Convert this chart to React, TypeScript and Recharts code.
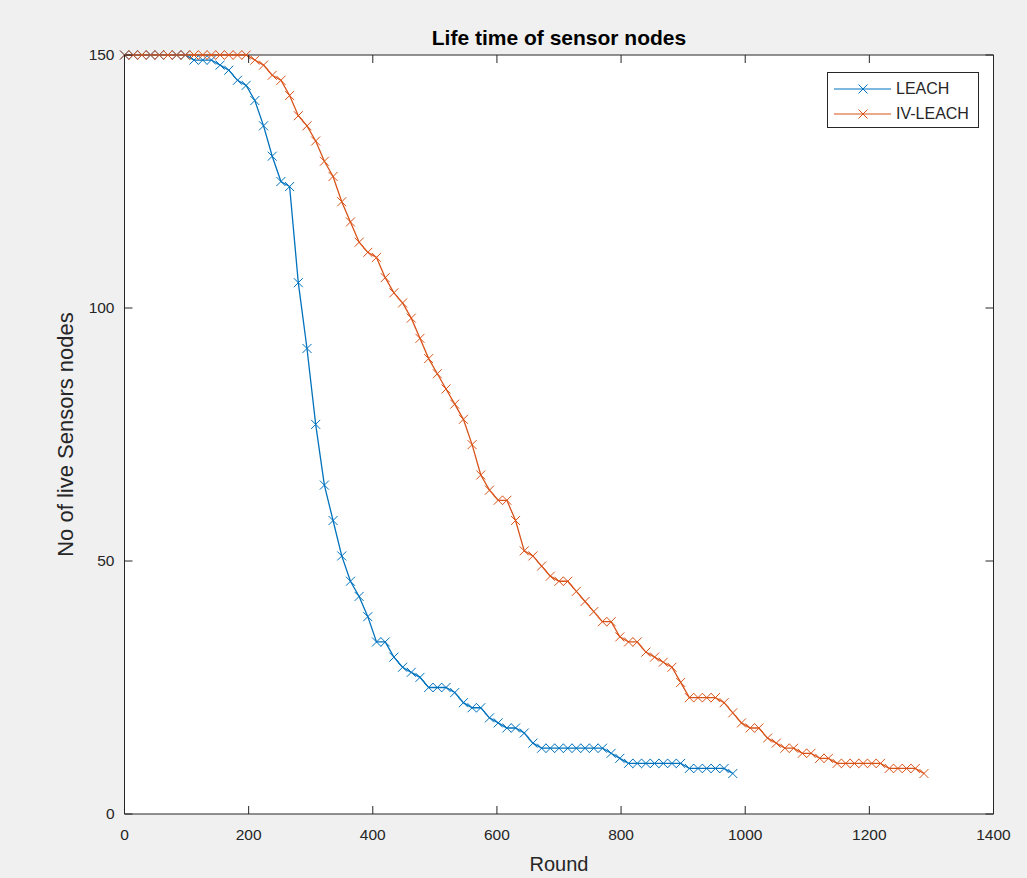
import React from "react";
import { LineChart, Line, XAxis, YAxis, CartesianGrid, ReferenceLine } from "recharts";

// rounds at which the node count was sampled
const rounds = [
  0, 14, 28, 42, 56, 70, 84, 98, 112, 126, 140, 154, 168, 182, 196, 210, 224, 238, 252, 266,
  280, 294, 308, 322, 336, 350, 364, 378, 392, 406, 420, 434, 448, 462, 476, 490, 504, 518, 532, 546,
  560, 574, 588, 602, 616, 630, 644, 658, 672, 686, 700, 714, 728, 742, 756, 770, 784, 798, 812, 826,
  840, 854, 868, 882, 896, 910, 924, 938, 952, 966, 980, 994, 1008, 1022, 1036, 1050, 1064, 1078, 1092, 1106,
  1120, 1134, 1148, 1162, 1176, 1190, 1204, 1218, 1232, 1246, 1260, 1274, 1288,
];

const leach = [
  150, 150, 150, 150, 150, 150, 150, 150, 149, 149, 149, 148, 147, 145, 144, 141, 136, 130, 125, 124,
  105, 92, 77, 65, 58, 51, 46, 43, 39, 34, 34, 31, 29, 28, 27, 25, 25, 25, 24, 22,
  21, 21, 19, 18, 17, 17, 16, 14, 13, 13, 13, 13, 13, 13, 13, 13, 12, 11, 10, 10,
  10, 10, 10, 10, 10, 9, 9, 9, 9, 9, 8,
];

const ivLeach = [
  150, 150, 150, 150, 150, 150, 150, 150, 150, 150, 150, 150, 150, 150, 150, 149, 148, 146, 145, 142,
  138, 136, 133, 129, 126, 121, 117, 113, 111, 110, 106, 103, 101, 98, 94, 90, 87, 84, 81, 78,
  73, 67, 64, 62, 62, 58, 52, 51, 49, 47, 46, 46, 44, 42, 40, 38, 38, 35, 34, 34,
  32, 31, 30, 29, 26, 23, 23, 23, 23, 22, 20, 18, 17, 17, 15, 14, 13, 13, 12, 12,
  11, 11, 10, 10, 10, 10, 10, 10, 9, 9, 9, 9, 8,
];

const xTicks = [0, 200, 400, 600, 800, 1000, 1200, 1400];
const yTicks = [0, 50, 100, 150];

const BLUE = "#0072BD";
const ORANGE = "#D95319";
const AXIS = "#262626";
const FONT = "'Liberation Sans', Arial, Helvetica, sans-serif";

const W = 1027;
const H = 878;
const MARGIN = { top: 55, right: 33.5, bottom: 24, left: 64.5 };
const Y_AXIS_W = 60;
const X_AXIS_H = 40;
const PLOT_W = W - MARGIN.left - MARGIN.right - Y_AXIS_W;
const PLOT_H = H - MARGIN.top - MARGIN.bottom - X_AXIS_H;

const data = rounds.map((r, i) => ({
  round: r,
  leach: i < leach.length ? leach[i] : null,
  iv: ivLeach[i],
}));

const XMark = (props: any) => {
  const { cx, cy, stroke } = props;
  if (cx == null || cy == null) return <g />;
  const s = 4.5;
  return (
    <path
      d={`M${cx - s},${cy - s}L${cx + s},${cy + s}M${cx - s},${cy + s}L${cx + s},${cy - s}`}
      stroke={stroke}
      strokeWidth={1}
      fill="none"
    />
  );
};

// inward ticks on both the left and right side of the box
const LeftTick = ({ x, y, payload }: any) => (
  <g>
    <line x1={x + 10} x2={x + 18} y1={y} y2={y} stroke={AXIS} />
    <line x1={x + 10 + PLOT_W} x2={x + 2 + PLOT_W} y1={y} y2={y} stroke={AXIS} />
    <text x={x} y={y + 5} textAnchor="end" fontSize={15.5} fill={AXIS} fontFamily={FONT}>
      {payload.value}
    </text>
  </g>
);

// inward ticks on both the bottom and top of the box
const BottomTick = ({ x, y, payload }: any) => (
  <g>
    <line x1={x} x2={x} y1={y - 10} y2={y - 18} stroke={AXIS} />
    <line x1={x} x2={x} y1={y - 10 - PLOT_H} y2={y - 2 - PLOT_H} stroke={AXIS} />
    <text x={x} y={y + 16} textAnchor="middle" fontSize={15.5} fill={AXIS} fontFamily={FONT}>
      {payload.value}
    </text>
  </g>
);

const YLabel = ({ viewBox }: any) => {
  const cx = viewBox.x + viewBox.width - 52;
  const cy = viewBox.y + viewBox.height / 2;
  return (
    <text
      x={cx}
      y={cy}
      transform={`rotate(-90 ${cx} ${cy})`}
      textAnchor="middle"
      fontSize={22}
      fill={AXIS}
      fontFamily={FONT}
    >
      No of live Sensors nodes
    </text>
  );
};

const XLabel = ({ viewBox }: any) => (
  <text
    x={viewBox.x + viewBox.width / 2}
    y={viewBox.y + 57}
    textAnchor="middle"
    fontSize={20}
    fill={AXIS}
    fontFamily={FONT}
  >
    Round
  </text>
);

const legendItems = [
  { name: "LEACH", color: BLUE },
  { name: "IV-LEACH", color: ORANGE },
];

const ChartLegend = () => (
  <div
    style={{
      position: "absolute",
      left: 827,
      top: 72,
      background: "#fff",
      border: `1px solid ${AXIS}`,
      width: 152,
      height: 56,
      paddingTop: 3,
      boxSizing: "border-box",
      fontSize: 16,
      color: AXIS,
    }}
  >
    {legendItems.map((it) => (
      <div key={it.name} style={{ display: "flex", alignItems: "center", height: 25 }}>
        <svg width={63} height={16} style={{ marginLeft: 5 }}>
          <line x1={1} x2={58} y1={8} y2={8} stroke={it.color} strokeWidth={1.2} />
          <path d="M25.5,3.5L34.5,12.5M25.5,12.5L34.5,3.5" stroke={it.color} strokeWidth={1} fill="none" />
        </svg>
        <span>{it.name}</span>
      </div>
    ))}
  </div>
);

export default function App() {
  return (
    <div
      style={{
        position: "absolute",
        left: 0,
        top: 0,
        width: W,
        height: H,
        background: "#f0f0f0",
        fontFamily: FONT,
      }}
    >
      <div
        style={{
          position: "absolute",
          left: MARGIN.left + Y_AXIS_W,
          width: PLOT_W,
          top: 26,
          textAlign: "center",
          fontWeight: "bold",
          fontSize: 21,
          color: "#000",
        }}
      >
        Life time of sensor nodes
      </div>
      <LineChart width={W} height={H} data={data} margin={MARGIN}>
        <CartesianGrid fill="#ffffff" stroke="none" horizontal={false} vertical={false} />
        <XAxis
          dataKey="round"
          type="number"
          domain={[0, 1400]}
          ticks={xTicks}
          height={X_AXIS_H}
          tickSize={0}
          tickMargin={10}
          tickLine={false}
          axisLine={{ stroke: AXIS }}
          tick={<BottomTick />}
          label={{ content: <XLabel /> }}
        />
        <YAxis
          type="number"
          domain={[0, 150]}
          ticks={yTicks}
          width={Y_AXIS_W}
          tickSize={0}
          tickMargin={10}
          tickLine={false}
          axisLine={{ stroke: AXIS }}
          tick={<LeftTick />}
          label={{ content: <YLabel /> }}
        />
        <ReferenceLine y={150} stroke={AXIS} />
        <ReferenceLine x={1400} stroke={AXIS} />
        <Line
          type="linear"
          dataKey="leach"
          name="LEACH"
          stroke={BLUE}
          strokeWidth={1.3}
          dot={(p: any) => <XMark key={`l${p.index}`} {...p} stroke={BLUE} />}
          isAnimationActive={false}
        />
        <Line
          type="linear"
          dataKey="iv"
          name="IV-LEACH"
          stroke={ORANGE}
          strokeWidth={1.3}
          dot={(p: any) => <XMark key={`v${p.index}`} {...p} stroke={ORANGE} />}
          isAnimationActive={false}
        />
      </LineChart>
      <ChartLegend />
    </div>
  );
}
